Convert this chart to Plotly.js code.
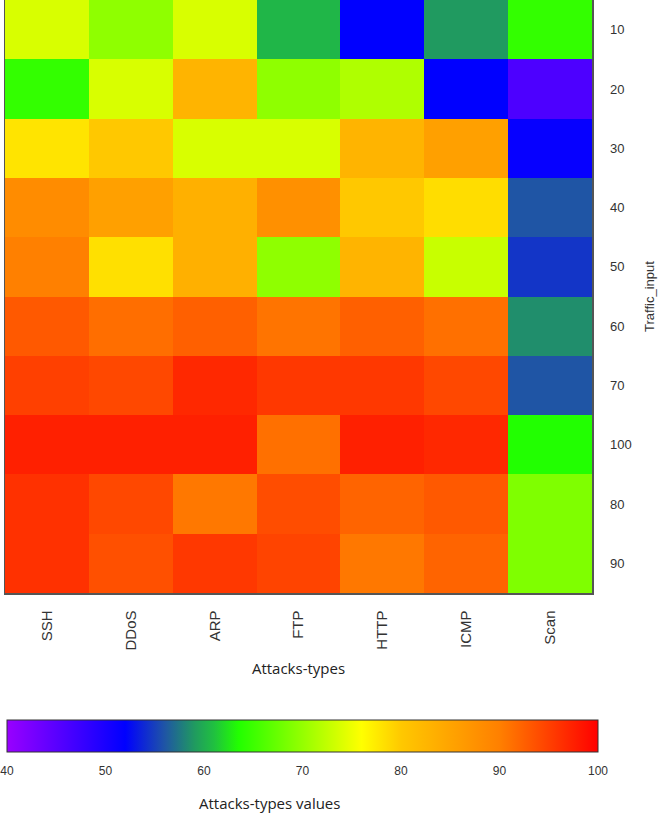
<!DOCTYPE html>
<html>
<head>
<meta charset="utf-8">
<script src="https://cdn.plot.ly/plotly-3.0.1.min.js"></script>
<style>html,body{margin:0;padding:0;background:#fff;}#chart{width:659px;height:817px;}</style>
</head>
<body>
<div id="chart"></div>
<script>
var attackTypes = ['SSH', 'DDoS', 'ARP', 'FTP', 'HTTP', 'ICMP', 'Scan'];
var trafficInputs = ['10', '20', '30', '40', '50', '60', '70', '100', '80', '90'];

var row10  = [73.8, 69.7, 73.8, 60.5, 52.0, 59.0, 64.5];
var row20  = [64.5, 73.8, 82.8, 69.7, 71.5, 52.0, 46.0];
var row30  = [78.0, 80.0, 73.8, 73.8, 82.8, 85.6, 51.5];
var row40  = [88.3, 85.6, 83.3, 87.8, 80.0, 78.5, 56.0];
var row50  = [90.0, 78.3, 83.3, 69.7, 82.8, 72.9, 54.5];
var row60  = [93.0, 91.4, 92.5, 90.9, 92.5, 91.2, 58.5];
var row70  = [95.0, 94.4, 96.9, 95.6, 95.6, 94.4, 56.0];
var row100 = [97.5, 97.5, 97.5, 91.2, 97.5, 96.9, 63.5];
var row80  = [96.2, 94.4, 90.6, 94.0, 92.2, 93.0, 68.8];
var row90  = [96.2, 93.7, 95.6, 94.7, 90.6, 92.2, 68.8];

var zRows = [row10, row20, row30, row40, row50, row60, row70, row100, row80, row90];

var colorscale = [
  [0.0, '#9900ff'],
  [0.2, '#0000ff'],
  [0.267, '#1f55a5'],
  [0.317, '#209a60'],
  [0.35, '#20c040'],
  [0.392, '#22ff00'],
  [0.6, '#ffff00'],
  [0.667, '#ffc800'],
  [0.833, '#ff8000'],
  [1.0, '#ff0000']
];

var trace = {
  type: 'heatmap',
  x: attackTypes,
  y: trafficInputs,
  z: zRows,
  zmin: 40,
  zmax: 100,
  colorscale: colorscale,
  xgap: 0, ygap: 0,
  hoverinfo: 'x+y+z',
  colorbar: {
    orientation: 'h',
    x: 0.5068, xanchor: 'center', xref: 'paper',
    y: -0.2142, yanchor: 'top', yref: 'paper',
    lenmode: 'pixels', len: 591,
    thickness: 32,
    xpad: 0, ypad: 0,
    outlinecolor: '#333', outlinewidth: 1,
    tickvals: [40, 50, 60, 70, 80, 90, 100],
    ticks: 'outside', ticklen: 9, tickcolor: 'rgba(0,0,0,0)',
    tickfont: {family: 'Liberation Sans, Arial, sans-serif', size: 12, color: '#333'},
    title: {text: ''}
  }
};

var layout = {
  width: 659, height: 817,
  margin: {l: 5, r: 67, t: 0, b: 224},
  paper_bgcolor: '#fff', plot_bgcolor: '#fff',
  xaxis: {
    type: 'category',
    tickangle: -90,
    ticks: '',
    ticklabelstandoff: 10,
    showline: true, mirror: true, linecolor: '#555', linewidth: 1.5,
    tickfont: {family: 'Liberation Sans, Arial, sans-serif', size: 15, color: '#333'},
    title: {text: 'Attacks-types', standoff: 14, font: {family: 'Open Sans, Noto Sans, sans-serif', size: 15, color: '#222'}}
  },
  yaxis: {
    type: 'category',
    side: 'right',
    autorange: 'reversed',
    ticks: '',
    ticklabelstandoff: 14,
    showline: true, mirror: true, linecolor: '#555', linewidth: 1.5,
    tickfont: {family: 'Liberation Sans, Arial, sans-serif', size: 13, color: '#333'},
    title: {text: 'Traffic_input', standoff: 14, font: {family: 'Liberation Sans, Arial, sans-serif', size: 13, color: '#333'}}
  },
  annotations: [{
    text: 'Attacks-types values',
    xref: 'paper', yref: 'paper',
    x: 0.45, y: -0.354, xanchor: 'center', yanchor: 'middle',
    showarrow: false,
    font: {family: 'Open Sans, Noto Sans, sans-serif', size: 15, color: '#222'}
  }]
};

Plotly.newPlot('chart', [trace], layout, {displayModeBar: false, staticPlot: true});
</script>
</body>
</html>
